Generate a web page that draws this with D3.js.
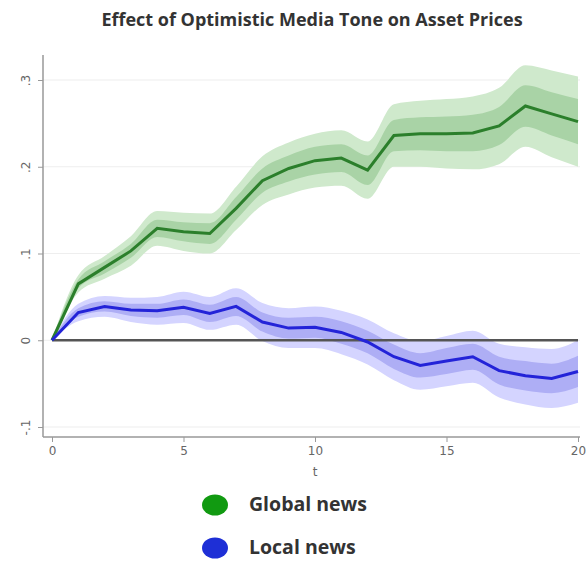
<!DOCTYPE html>
<html>
<head>
<meta charset="utf-8">
<script src="https://cdn.jsdelivr.net/npm/d3@7"></script>
<style>
body { margin: 0; background: #fff; }
</style>
</head>
<body>
<script>
// periods t = 0..20
var periods = [0,1,2,3,4,5,6,7,8,9,10,11,12,13,14,15,16,17,18,19,20];
// global news effect and band half-widths
var globalEst = [0,0.065,0.084,0.103,0.129,0.125,0.123,0.152,0.184,0.198,0.207,0.21,0.196,0.236,0.238,0.238,0.239,0.247,0.27,0.261,0.252];
var globalOuter = [0,0.010,0.013,0.017,0.020,0.022,0.023,0.025,0.028,0.030,0.031,0.032,0.033,0.036,0.038,0.040,0.042,0.044,0.047,0.050,0.052];
var globalInner = [0,0.005,0.007,0.008,0.010,0.011,0.012,0.013,0.014,0.015,0.016,0.016,0.017,0.018,0.019,0.020,0.021,0.022,0.024,0.025,0.026];
// local news effect and band half-widths
var localEst = [0,0.032,0.039,0.035,0.034,0.038,0.031,0.039,0.021,0.014,0.015,0.009,-0.002,-0.019,-0.029,-0.024,-0.019,-0.035,-0.041,-0.044,-0.036];
var localOuter = [0,0.010,0.012,0.014,0.016,0.018,0.019,0.021,0.022,0.023,0.024,0.025,0.026,0.027,0.028,0.029,0.030,0.031,0.033,0.034,0.036];
var localInner = [0,0.005,0.006,0.007,0.008,0.009,0.010,0.011,0.011,0.012,0.012,0.013,0.013,0.014,0.014,0.015,0.015,0.016,0.017,0.017,0.018];

var xTicks = [0,5,10,15,20];
var yTicks = [-0.1,0,0.1,0.2,0.3];
var yTickLabels = ["-.1","0",".1",".2",".3"];
var legendNames = ["Global news","Local news"];

var width = 587, height = 561;
var svg = d3.select("body").append("svg")
    .attr("width", width).attr("height", height);

var x = d3.scaleLinear().domain([0,20]).range([52,578]);
var y = d3.scaleLinear().domain([-0.1,0.3]).range([427,80]);

// title
svg.append("text")
    .attr("x", 312).attr("y", 26)
    .attr("text-anchor","middle")
    .style("font-family","Open Sans")
    .style("font-weight","bold")
    .style("font-size","18px")
    .attr("fill","#333")
    .text("Effect of Optimistic Media Tone on Asset Prices");

// faint gridlines
svg.append("g").selectAll("line").data(yTicks).enter().append("line")
    .attr("x1", 43).attr("x2", 580)
    .attr("y1", function(d){ return y(d); })
    .attr("y2", function(d){ return y(d); })
    .attr("stroke","#eeeeee").attr("stroke-width",1.2);

function band(est, hw) {
    return d3.area()
        .x(function(d,i){ return x(periods[i]); })
        .y0(function(d,i){ return y(est[i]-hw[i]); })
        .y1(function(d,i){ return y(est[i]+hw[i]); })
        .curve(d3.curveMonotoneX)(est);
}
var line = d3.line()
    .x(function(d,i){ return x(periods[i]); })
    .y(function(d){ return y(d); });

// bands
svg.append("path").attr("d", band(globalEst, globalOuter)).attr("fill","#cfe9cc");
svg.append("path").attr("d", band(globalEst, globalInner)).attr("fill","#a9d3a6");
svg.append("path").attr("d", band(localEst, localOuter)).attr("fill","#d4d4ff");
svg.append("path").attr("d", band(localEst, localInner)).attr("fill","#aeaef5");

// zero line
svg.append("line")
    .attr("x1", x(0)).attr("x2", x(20))
    .attr("y1", y(0)).attr("y2", y(0))
    .attr("stroke","#555").attr("stroke-width",2.5);

// estimate lines
svg.append("path").attr("d", line(globalEst))
    .attr("fill","none").attr("stroke","#2b7f2b").attr("stroke-width",3);
svg.append("path").attr("d", line(localEst))
    .attr("fill","none").attr("stroke","#2323d8").attr("stroke-width",3);

// axes
var xAxis = svg.append("g").attr("transform","translate(0,437)")
    .call(d3.axisBottom(x).tickValues(xTicks).tickSize(5).tickPadding(4));
var yAxis = svg.append("g").attr("transform","translate(43,0)")
    .call(d3.axisLeft(y).tickValues(yTicks).tickSize(5)
        .tickFormat(function(d,i){ return yTickLabels[i]; }));
xAxis.select(".domain").attr("d","M43,0H580");
yAxis.select(".domain").attr("d","M0,55V437");
[xAxis, yAxis].forEach(function(a){
    a.selectAll(".domain").attr("stroke","#999").attr("stroke-width",1.5);
    a.selectAll(".tick line").attr("stroke","#999");
    a.selectAll("text").attr("fill","#666")
        .style("font-family","DejaVu Sans").style("font-size","12px");
});
yAxis.selectAll(".tick text")
    .attr("transform","rotate(-90)")
    .attr("x", 0).attr("y", -17)
    .attr("dy","0.35em")
    .attr("text-anchor","middle");

// axis title
svg.append("text").attr("x", 315).attr("y", 476)
    .attr("text-anchor","middle").attr("fill","#666")
    .style("font-family","DejaVu Sans").style("font-size","12px")
    .text("t");

// legend
var legendColors = ["#119a11","#1e2fd6"];
var lg = svg.append("g").selectAll("g").data(legendNames).enter().append("g")
    .attr("transform", function(d,i){ return "translate(215," + (505 + i*43) + ")"; });
lg.append("ellipse").attr("rx",13).attr("ry",10.5)
    .attr("fill", function(d,i){ return legendColors[i]; });
lg.append("text").attr("x", 34).attr("y", 6)
    .style("font-family","Open Sans").style("font-weight","bold")
    .style("font-size","19.5px").attr("fill","#333")
    .text(function(d){ return d; });
</script>
</body>
</html>
